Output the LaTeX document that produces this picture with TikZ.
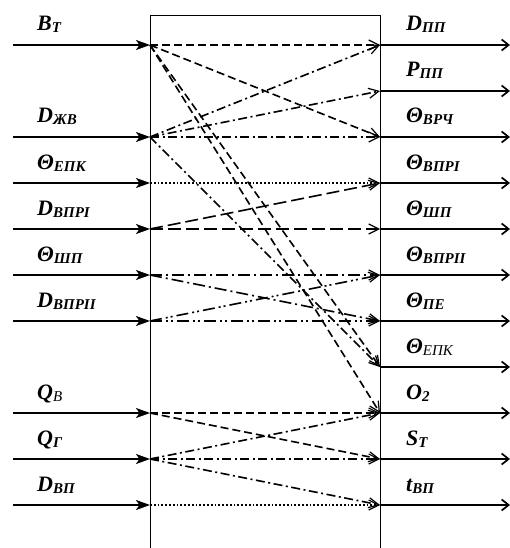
\documentclass[tikz,border=0pt]{standalone}
\usepackage{fontspec}
\setmainfont{Liberation Serif}
\usetikzlibrary{arrows.meta}
\definecolor{ink}{HTML}{000000}
\newcommand{\sg}[2]{{\bfseries\itshape\fontsize{22}{24}\selectfont #1\raisebox{-2pt}{\fontsize{15}{16}\selectfont #2}}}
\tikzset{every node/.style={text=ink,inner sep=0pt},
lbl/.style={anchor=base west},
frame/.style={draw=ink,line width=.9pt},
inp/.style={draw=ink,line width=1.7pt,-{Stealth[length=14pt,width=10pt,inset=3.5pt]}},
outp/.style={draw=ink,line width=1.7pt,-{Straight Barb[length=7pt,width=11pt,line width=1.7pt]}},
lnk/.style={draw=ink,line width=1.6pt,-{Straight Barb[length=10pt,width=10pt,line width=1.2pt]}},
dsh/.style={lnk,dash pattern=on 8pt off 4pt},
ldsh/.style={lnk,dash pattern=on 13pt off 5pt},
dd/.style={lnk,dash pattern=on 9pt off 3.5pt on 2pt off 3.5pt},
ddl/.style={lnk,dash pattern=on 12pt off 4pt on 2pt off 4pt},
ddd/.style={lnk,dash pattern=on 12pt off 4pt on 2pt off 3pt on 2pt off 4pt},
dots/.style={lnk,dash pattern=on 1.8pt off 2pt}}

\begin{document}
\begin{tikzpicture}[x=1pt,y=1pt]
\useasboundingbox (0,0) rectangle (509,-548);
% block
\draw[frame] (150,-548)--(150,-15)--(380,-15)--(380,-548);
% inputs
\coordinate (sBT) at (13,-45);    \coordinate (iBT) at (150,-45);
\coordinate (sDZV) at (13,-137);  \coordinate (iDZV) at (150,-137);
\coordinate (sTEPK) at (13,-183); \coordinate (iTEPK) at (150,-183);
\coordinate (sDV1) at (13,-229);  \coordinate (iDV1) at (150,-229);
\coordinate (sTSP) at (13,-275);  \coordinate (iTSP) at (150,-275);
\coordinate (sDV2) at (13,-321);  \coordinate (iDV2) at (150,-321);
\coordinate (sQB) at (13,-413);   \coordinate (iQB) at (150,-413);
\coordinate (sQG) at (13,-459);   \coordinate (iQG) at (150,-459);
\coordinate (sDVP) at (13,-505);  \coordinate (iDVP) at (150,-505);
% outputs
\coordinate (oDPP) at (380,-45);   \coordinate (eDPP) at (510,-45);
\coordinate (oPPP) at (380,-91);   \coordinate (ePPP) at (510,-91);
\coordinate (oTVR) at (380,-137);  \coordinate (eTVR) at (510,-137);
\coordinate (oTV1) at (380,-183);  \coordinate (eTV1) at (510,-183);
\coordinate (oTSP) at (380,-229);  \coordinate (eTSP) at (510,-229);
\coordinate (oTV2) at (380,-275);  \coordinate (eTV2) at (510,-275);
\coordinate (oTPE) at (380,-321);  \coordinate (eTPE) at (510,-321);
\coordinate (oTEPK) at (380,-367); \coordinate (eTEPK) at (510,-367);
\coordinate (oO2) at (380,-413);   \coordinate (eO2) at (510,-413);
\coordinate (oST) at (380,-459);   \coordinate (eST) at (510,-459);
\coordinate (otVP) at (380,-505);  \coordinate (etVP) at (510,-505);
\foreach \a/\b in {sBT/iBT,sDZV/iDZV,sTEPK/iTEPK,sDV1/iDV1,sTSP/iTSP,sDV2/iDV2,sQB/iQB,sQG/iQG,sDVP/iDVP}
  \draw[inp] (\a)--(\b);
\foreach \a/\b in {oDPP/eDPP,oPPP/ePPP,oTVR/eTVR,oTV1/eTV1,oTSP/eTSP,oTV2/eTV2,oTPE/eTPE,oTEPK/eTEPK,oO2/eO2,oST/eST,otVP/etVP}
  \draw[outp] (\a)--(\b);
% labels, left
\node[lbl] (tBT) at (37,-31) {\sg{B}{T}};
\node[lbl] (tDZV) at (37,-123) {\sg{D}{ЖВ}};
\node[lbl] (tTEPK) at (37,-169) {\sg{Θ}{ЕПК}};
\node[lbl] (tDV1) at (37,-215) {\sg{D}{ВПРI}};
\node[lbl] (tTSP) at (37,-261) {\sg{Θ}{ШП}};
\node[lbl] (tDV2) at (37,-307) {\sg{D}{ВПРII}};
\node[lbl] (tQB) at (37,-399) {\sg{Q}{\mdseries В}};
\node[lbl] (tQG) at (37,-445) {\sg{Q}{Г}};
\node[lbl] (tDVP) at (37,-491) {\sg{D}{ВП}};
% labels, right
\node[lbl] (rDPP) at (406,-31) {\sg{D}{ПП}};
\node[lbl] (rPPP) at (406,-77) {\sg{P}{ПП}};
\node[lbl] (rTVR) at (406,-123) {\sg{Θ}{ВРЧ}};
\node[lbl] (rTV1) at (406,-169) {\sg{Θ}{ВПРI}};
\node[lbl] (rTSP) at (406,-215) {\sg{Θ}{ШП}};
\node[lbl] (rTV2) at (406,-261) {\sg{Θ}{ВПРII}};
\node[lbl] (rTPE) at (406,-307) {\sg{Θ}{ПЕ}};
\node[lbl] (rTEPK) at (406,-353) {\sg{Θ}{\mdseries ЕПК}};
\node[lbl] (rO2) at (406,-399) {\sg{O}{2}};
\node[lbl] (rST) at (406,-445) {\sg{S}{T}};
\node[lbl] (rtVP) at (406,-491) {\sg{t}{ВП}};
% links inside the block
\draw[dsh] (iBT)--(oDPP);
\draw[dsh] (iBT)--(oTVR);
\draw[dsh] (iBT)--(oTEPK);
\draw[dsh] (iBT)--(oO2);
\draw[dd] (iDZV)--(oDPP);
\draw[dd] (iDZV)--(oPPP);
\draw[dd] (iDZV)--(oTVR);
\draw[dd] (iDZV)--(oTEPK);
\draw[dots] (iTEPK)--(oTV1);
\draw[ldsh] (iDV1)--(oTV1);
\draw[ldsh] (iDV1)--(oTSP);
\draw[ddl] (iTSP)--(oTV2);
\draw[ddl] (iTSP)--(oTPE);
\draw[ddd] (iDV2)--(oTV2);
\draw[ddd] (iDV2)--(oTPE);
\draw[dsh] (iQB)--(oO2);
\draw[dsh] (iQB)--(oST);
\draw[dd] (iQG)--(oO2);
\draw[dd] (iQG)--(oST);
\draw[dd] (iQG)--(otVP);
\draw[dots] (iDVP)--(otVP);
\end{tikzpicture}
\end{document}
